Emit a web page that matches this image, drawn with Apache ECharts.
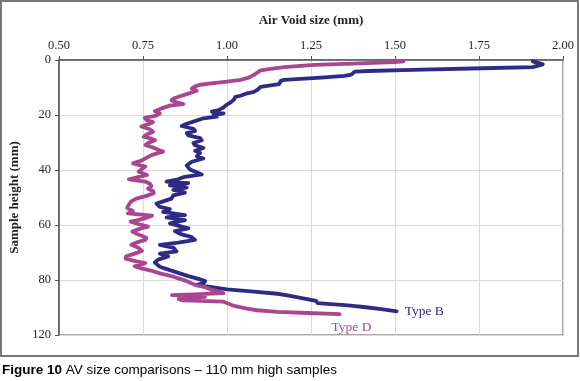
<!DOCTYPE html>
<html>
<head>
<meta charset="utf-8">
<script src="https://cdn.jsdelivr.net/npm/echarts@6/dist/echarts.min.js"></script>
<style>
  html, body { margin: 0; padding: 0; background: #fff; }
  #chart { width: 580px; height: 381px; }
</style>
</head>
<body>
<div id="chart"></div>
<script>
// x-axis ticks (air void size, mm)
const xTicks = ['0.50', '0.75', '1.00', '1.25', '1.50', '1.75', '2.00'];
// y-axis tick labels as printed (last one reads 120)
const yTickLabels = ['0', '20', '40', '60', '80', '120'];

// Type B: sample height (mm)
const heightB = [0.5, 1.6, 2.6, 3.0, 3.6, 4.0, 4.2, 5.3, 5.8, 6.4, 7.2, 7.6, 8.8, 9.4, 9.8, 10.9, 11.6, 12.1, 13.0, 13.4,
  14.5, 15.3, 16.2, 17.2, 18.2, 18.8, 19.4, 20.0, 20.6, 21.2, 21.8, 22.4, 23.2, 24.0, 25.0, 25.8, 26.6, 27.4, 28.4, 29.2,
  30.2, 31.0, 32.0, 33.0, 33.8, 35.0, 35.8, 37.0, 38.4, 39.8, 41.6, 42.6, 43.4, 44.2, 44.8, 45.6, 46.4, 47.2, 48.2, 49.2,
  50.4, 51.4, 52.2, 53.4, 54.2, 55.2, 56.4, 57.2, 58.2, 59.4, 60.4, 61.2, 62.2, 63.2, 64.4, 65.4, 66.4, 67.2, 68.2, 69.6,
  70.4, 71.4, 72.6, 73.6, 75.2, 76.4, 77.6, 78.6, 79.6, 80.4, 81.2, 81.8, 82.6, 83.4, 84.2, 85.0, 85.6, 86.4, 87.2, 87.6,
  88.4, 89.2, 90.0, 90.8, 91.4];
// Type B: air void size (mm)
const sizeB = [1.91, 1.94, 1.91, 1.76, 1.55, 1.42, 1.38, 1.37, 1.35, 1.28, 1.17, 1.16, 1.155, 1.12, 1.10, 1.09, 1.08, 1.06, 1.04, 1.025,
  1.02, 1.012, 1.00, 0.99, 0.975, 0.955, 0.99, 0.96, 0.97, 0.93, 0.935, 0.90, 0.88, 0.865, 0.90, 0.905, 0.88, 0.885, 0.92, 0.925,
  0.90, 0.905, 0.93, 0.905, 0.92, 0.91, 0.93, 0.895, 0.88, 0.89, 0.925, 0.87, 0.855, 0.82, 0.885, 0.83, 0.88, 0.84, 0.875, 0.84,
  0.835, 0.81, 0.79, 0.80, 0.83, 0.81, 0.875, 0.82, 0.875, 0.83, 0.86, 0.885, 0.845, 0.86, 0.895, 0.905, 0.855, 0.80, 0.84, 0.85,
  0.80, 0.825, 0.795, 0.785, 0.80, 0.83, 0.86, 0.885, 0.915, 0.935, 0.93, 0.91, 0.955, 1.00, 1.08, 1.15, 1.18, 1.215, 1.25, 1.265,
  1.27, 1.36, 1.42, 1.47, 1.505];

// Type D: sample height (mm)
const heightD = [0.5, 0.8, 1.4, 1.8, 2.6, 3.2, 3.8, 4.6, 5.4, 6.4, 7.2, 7.9, 8.4, 9.0, 9.6, 10.4, 11.2, 11.8, 12.4, 13.2,
  13.8, 14.6, 15.4, 16.0, 16.6, 17.6, 18.6, 19.4, 20.2, 21.0, 21.8, 22.6, 23.4, 24.2, 25.2, 26.1, 27.2, 27.9, 28.6, 29.2,
  30.2, 30.9, 31.8, 32.6, 33.3, 34.5, 35.6, 36.6, 37.6, 38.4, 38.8, 39.8, 40.6, 41.8, 42.6, 43.4, 44.2, 45.0, 45.8, 46.8,
  47.6, 48.4, 49.4, 50.4, 51.4, 52.6, 53.8, 55.0, 55.8, 56.6, 57.4, 58.2, 58.8, 59.8, 60.6, 61.4, 62.4, 63.4, 64.6, 65.4,
  66.4, 67.2, 68.2, 69.4, 70.4, 71.4, 72.2, 73.2, 73.9, 75.0, 75.8, 76.8, 77.6, 78.6, 79.4, 80.4, 81.2, 82.0, 82.6, 83.4,
  84.2, 84.8, 85.2, 85.5, 85.8, 86.1, 86.6, 87.0, 87.4, 87.9, 88.6, 89.2, 89.8, 90.4, 91.0, 91.6, 92.0, 92.4];
// Type D: air void size (mm)
const sizeD = [1.525, 1.50, 1.35, 1.26, 1.17, 1.13, 1.10, 1.09, 1.08, 1.065, 1.04, 1.00, 0.96, 0.92, 0.905, 0.895, 0.91, 0.915, 0.88, 0.86,
  0.845, 0.835, 0.85, 0.87, 0.83, 0.805, 0.785, 0.80, 0.79, 0.755, 0.76, 0.78, 0.765, 0.745, 0.77, 0.78, 0.76, 0.752, 0.775, 0.786,
  0.765, 0.757, 0.78, 0.795, 0.81, 0.777, 0.76, 0.745, 0.72, 0.745, 0.757, 0.745, 0.737, 0.762, 0.735, 0.708, 0.757, 0.77, 0.775, 0.765,
  0.78, 0.782, 0.76, 0.73, 0.715, 0.708, 0.703, 0.72, 0.705, 0.777, 0.76, 0.735, 0.713, 0.74, 0.765, 0.74, 0.718, 0.735, 0.76, 0.757,
  0.73, 0.715, 0.735, 0.747, 0.725, 0.70, 0.698, 0.73, 0.757, 0.725, 0.745, 0.78, 0.80, 0.835, 0.855, 0.88, 0.894, 0.91, 0.935, 0.95,
  0.975, 0.99, 0.90, 0.836, 0.88, 0.935, 0.89, 0.856, 0.87, 0.99, 1.005, 1.015, 1.035, 1.06, 1.09, 1.15, 1.24, 1.335];

const colorB = '#2f2a86';
const colorD = '#a9468f';
const serif = '"Liberation Serif", "DejaVu Serif", serif';
const sans = '"Liberation Sans", Arial, sans-serif';

const pairs = (xs, ys) => xs.map((x, i) => [x, ys[i]]);

const chart = echarts.init(document.getElementById('chart'));
chart.setOption({
  animation: false,
  backgroundColor: '#fff',
  grid: {
    left: 53, right: 17, top: 60, bottom: 46,
    show: true, borderColor: '#8a8a8a', borderWidth: 1.5
  },
  xAxis: {
    type: 'value', position: 'top',
    min: 0.5, max: 2.0, interval: 0.25,
    name: 'Air Void size (mm)', nameLocation: 'middle', nameGap: 33,
    nameTextStyle: { fontFamily: serif, fontWeight: 'bold', fontSize: 13, color: '#231f20' },
    axisLine: { lineStyle: { color: '#555', width: 1.5 } },
    axisTick: { show: true, length: 4, lineStyle: { color: '#555' } },
    axisLabel: {
      margin: 8, fontFamily: serif, fontSize: 12.5, color: '#231f20',
      formatter: (v, i) => xTicks[i]
    },
    splitLine: { show: true, lineStyle: { color: '#d9d9d9', width: 1 } }
  },
  yAxis: {
    type: 'value', inverse: true,
    min: 0, max: 100, interval: 20,
    name: 'Sample height (mm)', nameLocation: 'middle', nameGap: 38,
    nameTextStyle: { fontFamily: serif, fontWeight: 'bold', fontSize: 13, color: '#231f20' },
    axisLine: { show: true, lineStyle: { color: '#555', width: 1.5 } },
    axisTick: { show: true, length: 4, lineStyle: { color: '#555' } },
    axisLabel: {
      margin: 8, fontFamily: serif, fontSize: 12.5, color: '#231f20',
      formatter: (v, i) => yTickLabels[i]
    },
    splitLine: { show: true, lineStyle: { color: '#d9d9d9', width: 1 } }
  },
  series: [
    {
      name: 'Type B', type: 'line', data: pairs(sizeB, heightB),
      showSymbol: false, smooth: false,
      lineStyle: { color: colorB, width: 3.8, join: 'round', cap: 'round' },
      endLabel: {
        show: true, formatter: 'Type B', distance: 8,
        fontFamily: serif, fontSize: 13.5, color: colorB
      }
    },
    {
      name: 'Type D', type: 'line', data: pairs(sizeD, heightD),
      showSymbol: false, smooth: false,
      lineStyle: { color: colorD, width: 3.8, join: 'round', cap: 'round' },
      endLabel: {
        show: true, formatter: 'Type D', distance: 0, offset: [-8, 13],
        fontFamily: serif, fontSize: 13.5, color: colorD
      }
    }
  ],
  graphic: [
    {
      type: 'rect', silent: true, z: -1,
      shape: { x: 1, y: 1, width: 577, height: 355 },
      style: { fill: 'none', stroke: '#777', lineWidth: 2 }
    },
    {
      type: 'text', left: 2, top: 363,
      style: {
        text: '{b|Figure 10} AV size comparisons – 110 mm high samples',
        fontFamily: sans, fontSize: 13.5, fill: '#000',
        rich: { b: { fontWeight: 'bold', fontFamily: sans, fontSize: 13.5 } }
      }
    }
  ]
});
</script>
</body>
</html>
